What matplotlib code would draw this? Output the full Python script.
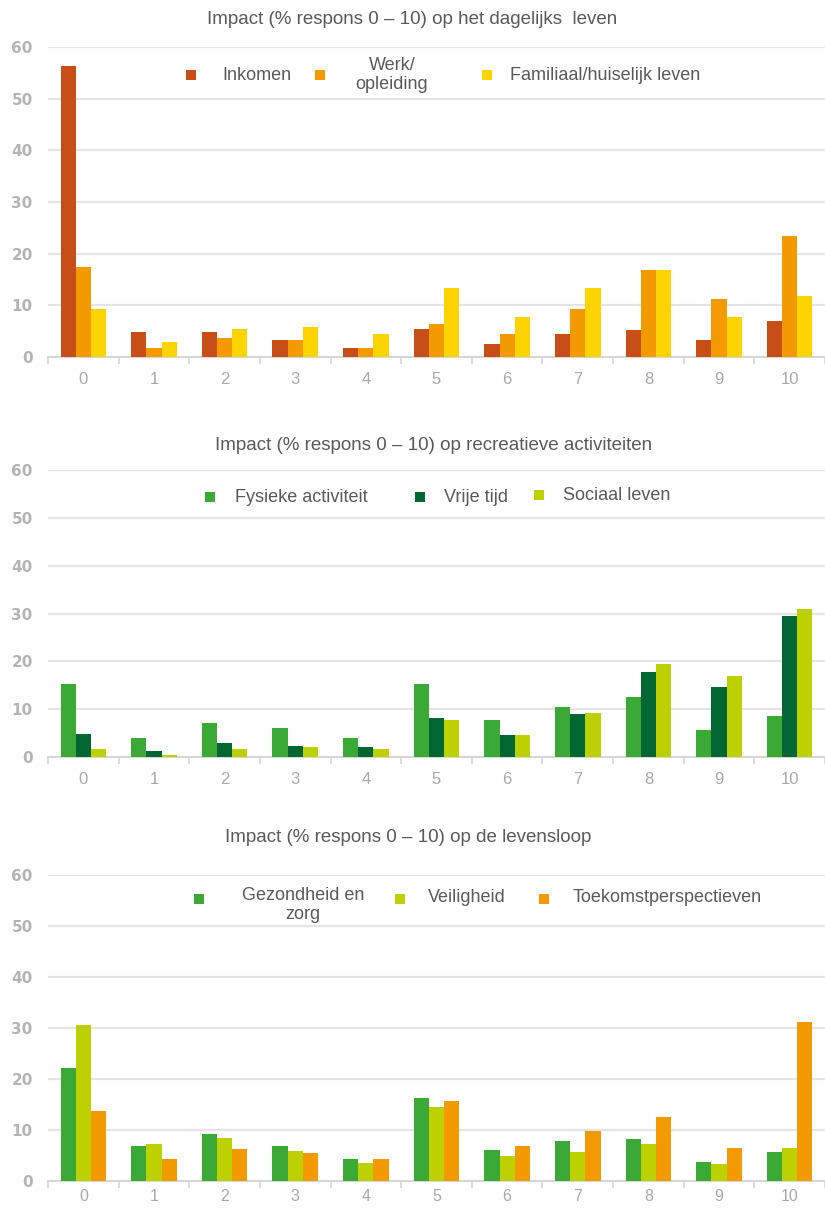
import matplotlib
matplotlib.use("Agg")
import matplotlib.pyplot as plt
import numpy as np

# ---- data -------------------------------------------------------------
scores = ["0", "1", "2", "3", "4", "5", "6", "7", "8", "9", "10"]

# panel 1: daily life
inkomen = [56.4, 4.8, 4.8, 3.3, 1.8, 5.5, 2.6, 4.5, 5.2, 3.3, 7.0]
werk_opleiding = [17.5, 1.8, 3.7, 3.3, 1.8, 6.3, 4.5, 9.3, 16.8, 11.2, 23.5]
familiaal = [9.3, 3.0, 5.5, 5.9, 4.5, 13.4, 7.8, 13.4, 16.8, 7.8, 11.9]

# panel 2: recreational activities
fysieke_activiteit = [15.3, 4.0, 7.2, 6.1, 4.0, 15.3, 7.7, 10.5, 12.5, 5.7, 8.5]
vrije_tijd = [4.9, 1.3, 2.9, 2.4, 2.0, 8.1, 4.5, 8.9, 17.8, 14.6, 29.4]
sociaal_leven = [1.7, 0.5, 1.7, 2.1, 1.7, 7.7, 4.5, 9.3, 19.4, 16.9, 31.0]

# panel 3: life course
gezondheid = [22.1, 6.9, 9.2, 6.9, 4.3, 16.3, 6.0, 7.9, 8.3, 3.8, 5.7]
veiligheid = [30.5, 7.3, 8.4, 5.8, 3.5, 14.5, 4.9, 5.7, 7.2, 3.4, 6.4]
toekomst = [13.8, 4.3, 6.2, 5.4, 4.3, 15.6, 6.8, 9.8, 12.5, 6.4, 31.1]

titles = [
    "Impact (% respons 0 \u2013 10) op het dagelijks  leven",
    "Impact (% respons 0 \u2013 10) op recreatieve activiteiten",
    "Impact (% respons 0 \u2013 10) op de levensloop",
]
series_labels = [
    ["Inkomen", "Werk/\nopleiding", "Familiaal/huiselijk leven"],
    ["Fysieke activiteit", "Vrije tijd", "Sociaal leven"],
    ["Gezondheid en\nzorg", "Veiligheid", "Toekomstperspectieven"],
]
yticks = [0, 10, 20, 30, 40, 50, 60]

# ---- styling ----------------------------------------------------------
ORANGE_RED = "#C84E17"
ORANGE = "#F29A00"
YELLOW = "#FDD400"
GREEN = "#3AA935"
DARK_GREEN = "#006632"
LIME = "#BDD000"

panel_data = [
    [inkomen, werk_opleiding, familiaal],
    [fysieke_activiteit, vrije_tijd, sociaal_leven],
    [gezondheid, veiligheid, toekomst],
]
panel_colors = [
    [ORANGE_RED, ORANGE, YELLOW],
    [GREEN, DARK_GREEN, LIME],
    [GREEN, LIME, ORANGE],
]

W, H = 825, 1209
NARROW = ["Liberation Sans Narrow", "Liberation Sans", "DejaVu Sans"]
TEXT = "#595959"
TICK = "#a8a8a8"
GRID = "#e4e4e4"

fig = plt.figure(figsize=(W / 100, H / 100), dpi=100)

# axes boxes in pixels: (top, bottom)
boxes = [(47, 357), (470, 757), (875, 1181)]
left_px = 48
# x tick label padding and size per panel
xlab_pad = [11, 11, 6]
xlab_size = [12, 12, 11.5]
# title positions (x centre, y centre) in pixels
title_pos = [(412, 20), (434, 445), (408, 838)]
# legend layout in pixels: (marker_x, marker_y, text_x, text_align, text_y)
legend_pos = [
    [(191, 75, 222, "left", 75), (320, 75, 392, "center", 75), (487, 75, 510, "left", 75)],
    [(210, 497, 235, "left", 497), (420, 497, 444, "left", 497), (539, 495, 563, "left", 495)],
    [(199, 899, 303, "center", 905), (400, 899, 428, "left", 898), (544, 899, 573, "left", 898)],
]


def px(x, y):
    return x / W, 1 - y / H


x = np.arange(len(scores))
bw = 0.215

for i, (top, bottom) in enumerate(boxes):
    ax = fig.add_axes([left_px / W, 1 - bottom / H, 1 - left_px / W, (bottom - top) / H])
    for k, (vals, col) in enumerate(zip(panel_data[i], panel_colors[i])):
        ax.bar(x + (k - 1) * bw, vals, width=bw, color=col, zorder=3, linewidth=0)

    ax.set_xlim(-0.5, len(scores) - 0.5)
    ax.set_ylim(0, 60)
    ax.set_yticks(yticks)
    ax.set_yticklabels([str(t) for t in yticks], fontsize=11, color="#b4b4b4",
                       fontweight="bold", family="DejaVu Sans")
    ax.tick_params(axis="y", length=0, pad=11)
    ax.grid(axis="y", color=GRID, linewidth=1.6, zorder=0)
    ax.set_axisbelow(True)

    ax.set_xticks(x)
    ax.set_xticklabels(scores, fontsize=xlab_size[i], color=TICK, family=NARROW)
    ax.set_xticks(np.arange(-0.5, len(scores)), minor=True)
    ax.tick_params(axis="x", which="major", length=0, pad=xlab_pad[i])
    ax.tick_params(axis="x", which="minor", length=5, width=1.2, color="#d6d6d6",
                   direction="out")

    for s in ("top", "right", "left"):
        ax.spines[s].set_visible(False)
    ax.spines["bottom"].set_color("#d6d6d6")
    ax.spines["bottom"].set_linewidth(1.4)

    tx, ty = title_pos[i]
    fig.text(*px(tx, ty), titles[i], ha="center", va="center", fontsize=13.5,
             color=TEXT, family=NARROW)

    for (mx, my, lx, align, ly), lab, col in zip(legend_pos[i], series_labels[i], panel_colors[i]):
        mxf, myf = px(mx, my)
        fig.patches.append(plt.Rectangle((mxf - 5 / W, myf - 5 / H), 10 / W, 10 / H,
                                         transform=fig.transFigure, facecolor=col,
                                         edgecolor="none", figure=fig))
        fig.text(*px(lx, ly), lab, ha=align, va="center", fontsize=13,
                 color=TEXT, family=NARROW, linespacing=1.1,
                 multialignment="center")

fig.savefig("out.png", dpi=100, facecolor="white")
